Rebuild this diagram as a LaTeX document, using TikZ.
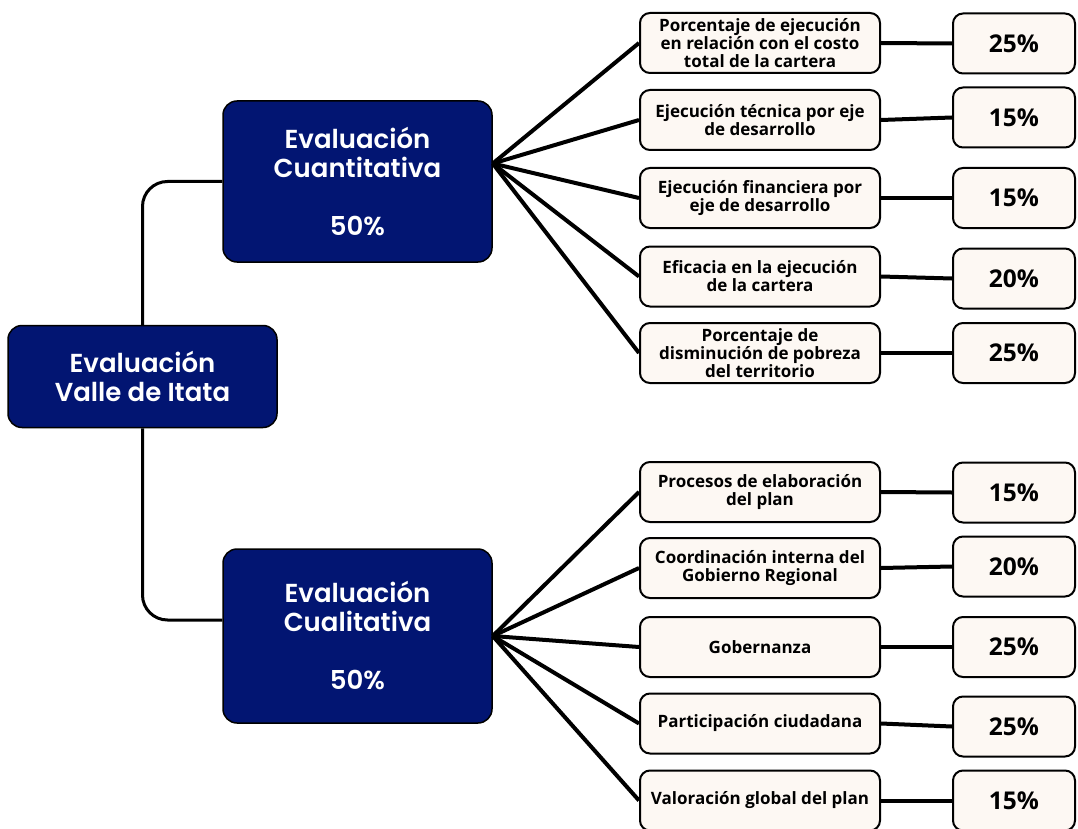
\documentclass[tikz,border=0pt]{standalone}
\usepackage{fontspec}
\setmainfont{Open Sans}
\newfontfamily\headfont{Poppins SemiBold}
\definecolor{navy}{HTML}{021572}
\definecolor{cream}{HTML}{FDF8F3}
\begin{document}
\begin{tikzpicture}[x=1pt,y=-1pt,
  bigbox/.style={draw=black, line width=1.5pt, fill=navy, rounded corners=14pt, text=white, align=center, font=\headfont\fontsize{26}{29}\selectfont, inner sep=0pt},
  itembox/.style={draw=black, line width=2pt, fill=cream, rounded corners=10pt, minimum width=240pt, minimum height=60pt, align=center, font=\bfseries\fontsize{17}{18}\selectfont, inner sep=0pt},
  pctbox/.style={itembox, minimum width=122pt, font=\bfseries\fontsize{24.5}{28}\selectfont},
  link/.style={line width=4pt, draw=black},
  trunk/.style={line width=3pt, draw=black, rounded corners=25pt}]
\useasboundingbox (0,0) rectangle (1078,829);
\fill[white] (0,0) rectangle (1078,829);

% main boxes
\node[bigbox, minimum width=269pt, minimum height=102pt] (root) at (142.5,376.5) {Evaluación\\Valle de Itata};
\node[bigbox, minimum width=269pt, minimum height=161pt] (quant) at (357.5,181.5) {Evaluación\\Cuantitativa\\[29pt]50\%};
\node[bigbox, minimum width=269pt, minimum height=174pt] (qual) at (357.5,636) {Evaluación\\Cualitativa\\[29pt]50\%};

% item boxes
\node[itembox] (i1) at (760,43) {Porcentaje de ejecución\\en relación con el costo\\total de la cartera};
\node[itembox] (i2) at (760,120) {Ejecución técnica por eje\\de desarrollo};
\node[itembox] (i3) at (760,198) {Ejecución financiera por\\eje de desarrollo};
\node[itembox] (i4) at (760,276.5) {Eficacia en la ejecución\\de la cartera};
\node[itembox] (i5) at (760,353) {Porcentaje de\\disminución de pobreza\\del territorio};
\node[itembox] (i6) at (760,492) {Procesos de elaboración\\del plan};
\node[itembox] (i7) at (760,568) {Coordinación interna del\\Gobierno Regional};
\node[itembox] (i8) at (760,647) {Gobernanza};
\node[itembox] (i9) at (760,723.5) {Participación ciudadana};
\node[itembox] (i10) at (760,800.5) {Valoración global del plan};

% percentage boxes
\node[pctbox] (p1) at (1014,43.5) {25\%};
\node[pctbox] (p2) at (1014,117.5) {15\%};
\node[pctbox] (p3) at (1014,198) {15\%};
\node[pctbox] (p4) at (1014,278.5) {20\%};
\node[pctbox] (p5) at (1014,353) {25\%};
\node[pctbox] (p6) at (1014,492.5) {15\%};
\node[pctbox] (p7) at (1014,566.5) {20\%};
\node[pctbox] (p8) at (1014,647) {25\%};
\node[pctbox] (p9) at (1014,726.5) {25\%};
\node[pctbox] (p10) at (1014,800.5) {15\%};

% root connectors
\draw[trunk] (root.north) |- (quant.west);
\draw[trunk] (root.south) |- ([yshift=16pt]qual.west);

% fans
\coordinate (qf) at ([yshift=18pt]quant.east);
\foreach \k in {1,...,5} \draw[link] (qf) -- (i\k.west);
\coordinate (lf) at (qual.east);
\foreach \k in {6,...,10} \draw[link] (lf) -- (i\k.west);

% item to percentage
\foreach \k in {1,...,10} \draw[link] (i\k.east) -- (p\k.west);
\end{tikzpicture}
\end{document}
